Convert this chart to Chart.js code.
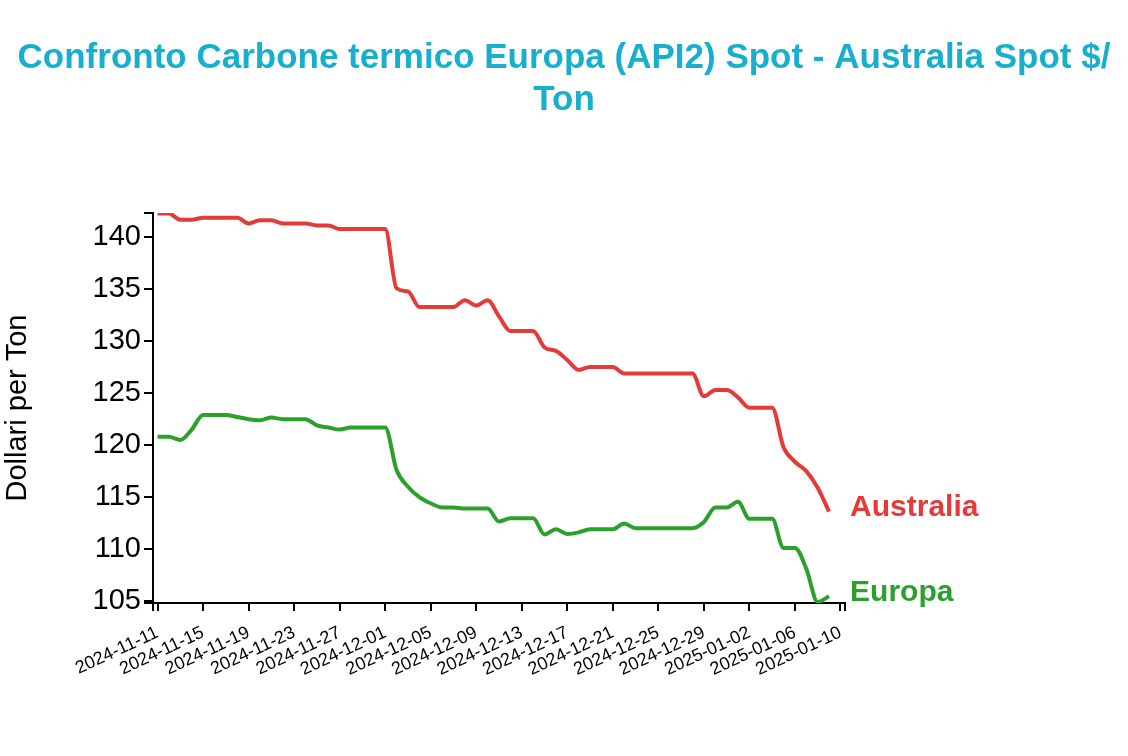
<!DOCTYPE html>
<html>
<head>
<meta charset="utf-8">
<script src="https://cdn.jsdelivr.net/npm/chart.js@4.4.1/dist/chart.umd.min.js"></script>
<style>
  body { margin: 0; background: #fff; }
  canvas { display: block; }
</style>
</head>
<body>
<canvas id="myChart" width="1128" height="756"></canvas>
<script>
// daily values
var dates = [
  "2024-11-11", "2024-11-12", "2024-11-13", "2024-11-14", "2024-11-15", "2024-11-16",
  "2024-11-17", "2024-11-18", "2024-11-19", "2024-11-20", "2024-11-21", "2024-11-22",
  "2024-11-23", "2024-11-24", "2024-11-25", "2024-11-26", "2024-11-27", "2024-11-28",
  "2024-11-29", "2024-11-30", "2024-12-01", "2024-12-02", "2024-12-03", "2024-12-04",
  "2024-12-05", "2024-12-06", "2024-12-07", "2024-12-08", "2024-12-09", "2024-12-10",
  "2024-12-11", "2024-12-12", "2024-12-13", "2024-12-14", "2024-12-15", "2024-12-16",
  "2024-12-17", "2024-12-18", "2024-12-19", "2024-12-20", "2024-12-21", "2024-12-22",
  "2024-12-23", "2024-12-24", "2024-12-25", "2024-12-26", "2024-12-27", "2024-12-28",
  "2024-12-29", "2024-12-30", "2024-12-31", "2025-01-01", "2025-01-02", "2025-01-03",
  "2025-01-04", "2025-01-05", "2025-01-06", "2025-01-07", "2025-01-08", "2025-01-09"
];

var australia = [
  142.3, 142.3, 141.7, 141.7, 141.9, 141.9, 141.9, 141.9, 141.35, 141.65,
  141.65, 141.35, 141.35, 141.35, 141.15, 141.15, 140.8, 140.8, 140.8, 140.8,
  140.8, 135.1, 134.8, 133.3, 133.3, 133.3, 133.3, 133.95, 133.45, 133.95,
  132.4, 131.0, 131.0, 131.0, 129.4, 129.07, 128.2, 127.24, 127.53, 127.53,
  127.53, 126.9, 126.9, 126.9, 126.9, 126.9, 126.9, 126.9, 124.7, 125.3,
  125.3, 124.6, 123.6, 123.6, 123.6, 119.8, 118.4, 117.5, 115.9, 113.6
];

var europa = [
  120.8, 120.8, 120.5, 121.5, 122.9, 122.9, 122.9, 122.7, 122.5, 122.4,
  122.65, 122.5, 122.5, 122.5, 121.9, 121.7, 121.5, 121.7, 121.7, 121.7,
  121.7, 117.6, 116.0, 115.0, 114.4, 114.0, 114.0, 113.9, 113.9, 113.9,
  112.65, 112.95, 112.95, 112.95, 111.4, 111.9, 111.45, 111.6, 111.9, 111.9,
  111.9, 112.45, 112.0, 112.0, 112.0, 112.0, 112.0, 112.0, 112.6, 114.0,
  114.0, 114.55, 112.9, 112.9, 112.9, 110.1, 110.1, 108.1, 104.9, 105.45
];

var xTickLabels = [
  "2024-11-11", "2024-11-15", "2024-11-19", "2024-11-23", "2024-11-27", "2024-12-01",
  "2024-12-05", "2024-12-09", "2024-12-13", "2024-12-17", "2024-12-21", "2024-12-25",
  "2024-12-29", "2025-01-02", "2025-01-06", "2025-01-10"
];
var yTicks = [105, 110, 115, 120, 125, 130, 135, 140];

var seriesNames = ["Australia", "Europa"];
var seriesColors = ["#e53b38", "#2ca02c"];

var DAY = 86400000;
var t0 = Date.parse(dates[0]);
function dayOf(s) { return (Date.parse(s) - t0) / DAY; }

var xMin = -0.4, xMax = 60.4;
var yMin = 104.8, yMax = 142.35;

function toPoints(values) {
  return values.map(function (v, i) { return { x: dayOf(dates[i]), y: v }; });
}

var fontFamily = "'Liberation Sans', Arial, sans-serif";

var titlePlugin = {
  id: "pageTitle",
  afterDraw: function (chart) {
    var ctx = chart.ctx;
    ctx.save();
    ctx.fillStyle = "#18afcf";
    ctx.font = "bold 35px " + fontFamily;
    ctx.textAlign = "center";
    ctx.textBaseline = "middle";
    ctx.fillText("Confronto Carbone termico Europa (API2) Spot - Australia Spot $/", 564, 58);
    ctx.fillText("Ton", 564, 100);
    ctx.restore();
  }
};

var endLabels = {
  id: "endLabels",
  afterDatasetsDraw: function (chart) {
    var ctx = chart.ctx;
    ctx.save();
    ctx.font = "bold 30px " + fontFamily;
    ctx.textAlign = "left";
    ctx.textBaseline = "middle";
    chart.data.datasets.forEach(function (ds, i) {
      var pts = chart.getDatasetMeta(i).data;
      var last = pts[pts.length - 1];
      ctx.fillStyle = ds.borderColor;
      ctx.fillText(ds.label, last.x + 21, last.y - 4);
    });
    ctx.restore();
  }
};

var myChart = document.getElementById("myChart").getContext("2d");
var massChart = new Chart(myChart, {
  type: "line",
  data: {
    datasets: [{
      label: seriesNames[0],
      data: toPoints(australia),
      borderColor: seriesColors[0],
      borderWidth: 4,
      pointRadius: 0,
      cubicInterpolationMode: "monotone",
      fill: false
    }, {
      label: seriesNames[1],
      data: toPoints(europa),
      borderColor: seriesColors[1],
      borderWidth: 4,
      pointRadius: 0,
      cubicInterpolationMode: "monotone",
      fill: false
    }]
  },
  options: {
    responsive: false,
    animation: false,
    devicePixelRatio: 1,
    layout: { padding: { top: 213, right: 283, bottom: 0, left: 0 } },
    plugins: {
      legend: { display: false },
      title: { display: false },
      tooltip: { enabled: false }
    },
    scales: {
      x: {
        type: "linear",
        min: xMin,
        max: xMax,
        afterFit: function (s) { s.height = 153; },
        afterBuildTicks: function (s) {
          var t = [{ value: xMin }];
          xTickLabels.forEach(function (l) { t.push({ value: dayOf(l) }); });
          t.push({ value: xMax });
          s.ticks = t;
        },
        grid: { drawOnChartArea: false, color: "#000", lineWidth: 2, tickLength: 8 },
        border: { color: "#000", width: 2 },
        ticks: {
          autoSkip: false,
          minRotation: 25,
          maxRotation: 25,
          padding: 11,
          color: "#000",
          font: { family: fontFamily, size: 18 },
          callback: function (value) {
            for (var i = 0; i < xTickLabels.length; i++) {
              if (Math.abs(dayOf(xTickLabels[i]) - value) < 0.01) return xTickLabels[i];
            }
            return "";
          }
        }
      },
      y: {
        type: "linear",
        min: yMin,
        max: yMax,
        afterFit: function (s) { s.width = 153; },
        afterBuildTicks: function (s) {
          var t = [{ value: yMin }];
          yTicks.forEach(function (v) { t.push({ value: v }); });
          t.push({ value: yMax });
          s.ticks = t;
        },
        grid: { drawOnChartArea: false, color: "#000", lineWidth: 2, tickLength: 9 },
        border: { color: "#000", width: 2 },
        title: {
          display: true,
          text: "Dollari per Ton",
          color: "#000",
          font: { family: fontFamily, size: 29, lineHeight: 1.2 },
          padding: { top: 1, bottom: 0 }
        },
        ticks: {
          padding: 3,
          color: "#000",
          font: { family: fontFamily, size: 29 },
          callback: function (value) {
            return yTicks.indexOf(value) >= 0 ? String(value) : "";
          }
        }
      }
    }
  },
  plugins: [titlePlugin, endLabels]
});
</script>
</body>
</html>
